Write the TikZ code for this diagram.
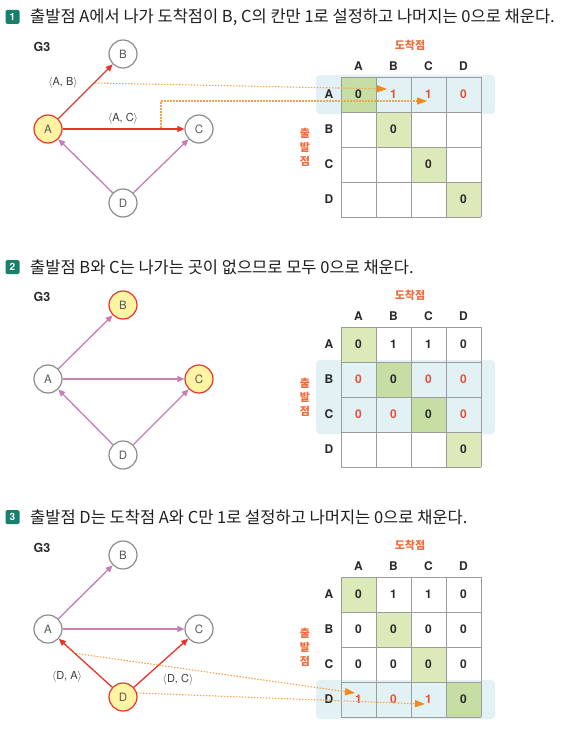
\documentclass[tikz,border=0pt]{standalone}
\usepackage{fontspec}
\setmainfont{Liberation Sans}
\newfontfamily\kr{Noto Sans CJK KR}
\newfontfamily\hv{TeX Gyre Heros}
\usetikzlibrary{arrows.meta}
\definecolor{redE}{HTML}{E8352B}
\definecolor{pinkE}{HTML}{C77DB6}
\definecolor{nodeG}{HTML}{8C8C8C}
\definecolor{yel}{HTML}{FFF4A4}
\definecolor{orgL}{HTML}{F5A24A}
\definecolor{orgA}{HTML}{F08A1C}
\definecolor{orgT}{HTML}{F26B3A}
\definecolor{bandc}{HTML}{E2F1F4}
\definecolor{grn}{HTML}{DCE9B8}
\definecolor{grnD}{HTML}{C6DDA3}
\definecolor{gridc}{HTML}{9C9C9C}
\definecolor{txt}{HTML}{2A2A2A}
\definecolor{redT}{HTML}{E4523F}
\definecolor{badgec}{HTML}{17806A}

\newcommand\matlabels[2]{%
  \node[ktl] (#1dst) at (410,#2-32) {도착점};
  \node[ktl, align=center, font=\kr\bfseries\fontsize{11}{14}\selectfont] (#1src) at (305,#2+70) {출\\발\\점};
  \foreach \l [count=\i from 0] in {A,B,C,D}{
    \node[hdr] (#1c\l) at ({358.5+35*\i},#2-11) {\l};
    \node[hdr] (#1r\l) at (329,{#2+17.5+35*\i}) {\l};
  }
}
\newcommand\matgrid[1]{%
  \foreach \k in {0,...,4}{
    \draw[gridl] ({341+35*\k},#1) -- ({341+35*\k},#1+140);
    \draw[gridl] (341,{#1+35*\k}) -- (481,{#1+35*\k});
  }
}
\newcommand\cel[6]{%
  \node[cellb, fill=#5] (#1-#3-#4) at ({358.5+35*#4},{#2+17.5+35*#3}) {#6};
}
\newcommand\rz{\textcolor{redT}{0}}
\newcommand\ro{\textcolor{redT}{1}}

\begin{document}
\begin{tikzpicture}[x=1pt,y=-1pt,
  vtx/.style={circle, draw=nodeG, line width=1.2pt, fill=white, minimum size=28pt, inner sep=0pt, font=\hv\fontsize{11.5}{13}\selectfont, text=black!65},
  vsel/.style={vtx, draw=redE, fill=yel},
  edg/.style={pinkE, line width=1.3pt, -{Triangle[length=7pt,width=6pt]}},
  esel/.style={redE, line width=1.3pt, -{Triangle[length=7pt,width=6pt]}},
  elab/.style={font=\hv\fontsize{11}{13}\selectfont, text=black!75},
  dotl/.style={orgL, line width=1.1pt, dash pattern=on 1.5pt off 1.5pt, -{Triangle[length=10pt,width=7pt,color=orgA]}},
  gl/.style={font=\hv\bfseries\fontsize{12.5}{14}\selectfont, text=txt},
  hdr/.style={font=\hv\bfseries\fontsize{12}{14}\selectfont, text=txt, inner sep=0pt},
  ktl/.style={font=\kr\bfseries\fontsize{11}{13}\selectfont, text=orgT, inner sep=0pt},
  cellb/.style={rectangle, minimum size=35pt, inner sep=0pt, draw=none, font=\hv\bfseries\fontsize{12}{14}\selectfont, text=txt},
  gridl/.style={gridc, line width=0.9pt},
  badge/.style={rectangle, rounded corners=1.5pt, fill=badgec, minimum size=14pt, inner sep=0pt, text=white, font=\hv\bfseries\fontsize{10}{12}\selectfont},
  ttl/.style={anchor=west, inner sep=0pt, font=\kr\fontsize{16.5}{19}\selectfont, text=black!88}
]
\useasboundingbox (0,0) rectangle (576,733);
\fill[white] (0,0) rectangle (576,733);

%================ Panel 1 ================
\node[badge] (b1) at (12.5,17) {1};
\node[ttl] (t1) at (30,17) {출발점 A에서 나가 도착점이 B, C의 칸만 1로 설정하고 나머지는 0으로 채운다.};
\node[gl] (g1) at (42,47) {G3};
\node[vsel] (A1) at (48,129) {A};
\node[vtx] (B1) at (123,54) {B};
\node[vtx] (C1) at (199,129) {C};
\node[vtx] (D1) at (123,203) {D};
\draw[esel] (A1) -- (B1);
\draw[esel] (A1) -- (C1);
\draw[edg] (D1) -- (A1);
\draw[edg] (D1) -- (C1);
\node[elab] (l1ab) at (63,83) {\ensuremath{\langle}A, B\ensuremath{\rangle}};
\node[elab] (l1ac) at (123,119) {\ensuremath{\langle}A, C\ensuremath{\rangle}};

\fill[bandc, rounded corners=4pt] (316,75) rectangle (495,114);
\fill[white] (341,112) rectangle (481,217);
\matlabels{m1}{77}
\cel{m1}{77}{0}{0}{grnD}{0}
\cel{m1}{77}{0}{1}{none}{\ro}
\cel{m1}{77}{0}{2}{none}{\ro}
\cel{m1}{77}{0}{3}{none}{\rz}
\cel{m1}{77}{1}{1}{grn}{0}
\cel{m1}{77}{2}{2}{grn}{0}
\cel{m1}{77}{3}{3}{grn}{0}
\matgrid{77}

\coordinate (p1s) at (95,83);
\coordinate (p1e) at (387,89);
\draw[dotl] (p1s) -- (p1e);
\coordinate (p2s) at (161,128);
\coordinate (p2m) at (161,101);
\coordinate (p2e) at (427,101);
\draw[dotl] (p2s) -- (p2m) -- (p2e);

%================ Panel 2 ================
\node[badge] (b2) at (12.5,267) {2};
\node[ttl] (t2) at (30,267) {출발점 B와 C는 나가는 곳이 없으므로 모두 0으로 채운다.};
\node[gl] (g2) at (42,297) {G3};
\node[vtx] (A2) at (48,379) {A};
\node[vsel] (B2) at (123,305) {B};
\node[vsel] (C2) at (199,379) {C};
\node[vtx] (D2) at (123,455) {D};
\draw[edg] (A2) -- (B2);
\draw[edg] (A2) -- (C2);
\draw[edg] (D2) -- (A2);
\draw[edg] (D2) -- (C2);

\fill[white] (341,327) rectangle (481,362);
\fill[bandc, rounded corners=4pt] (316,360) rectangle (495,434);
\fill[white] (341,432) rectangle (481,467);
\matlabels{m2}{327}
\cel{m2}{327}{0}{0}{grn}{0}
\cel{m2}{327}{0}{1}{none}{1}
\cel{m2}{327}{0}{2}{none}{1}
\cel{m2}{327}{0}{3}{none}{0}
\cel{m2}{327}{1}{0}{none}{\rz}
\cel{m2}{327}{1}{1}{grnD}{0}
\cel{m2}{327}{1}{2}{none}{\rz}
\cel{m2}{327}{1}{3}{none}{\rz}
\cel{m2}{327}{2}{0}{none}{\rz}
\cel{m2}{327}{2}{1}{none}{\rz}
\cel{m2}{327}{2}{2}{grnD}{0}
\cel{m2}{327}{2}{3}{none}{\rz}
\cel{m2}{327}{3}{3}{grn}{0}
\matgrid{327}

%================ Panel 3 ================
\node[badge] (b3) at (12.5,517) {3};
\node[ttl] (t3) at (30,517) {출발점 D는 도착점 A와 C만 1로 설정하고 나머지는 0으로 채운다.};
\node[gl] (g3) at (42,548) {G3};
\node[vtx] (A3) at (48,629) {A};
\node[vtx] (B3) at (123,555) {B};
\node[vtx] (C3) at (199,629) {C};
\node[vsel] (D3) at (123,697) {D};
\draw[edg] (A3) -- (B3);
\draw[edg] (A3) -- (C3);
\draw[esel] (D3) -- (A3);
\draw[esel] (D3) -- (C3);
\node[elab] (l3da) at (67,677) {\ensuremath{\langle}D, A\ensuremath{\rangle}};
\node[elab] (l3dc) at (178,680) {\ensuremath{\langle}D, C\ensuremath{\rangle}};

\fill[white] (341,577) rectangle (481,682);
\fill[bandc, rounded corners=4pt] (316,680) rectangle (495,719);
\matlabels{m3}{577}
\foreach \r in {0,1,2}{
  \foreach \c in {0,1,2,3}{
    \pgfmathtruncatemacro\v{(\r==0 && (\c==1 || \c==2)) ? 1 : 0}
    \ifnum\r=\c
      \cel{m3}{577}{\r}{\c}{grn}{\v}
    \else
      \cel{m3}{577}{\r}{\c}{none}{\v}
    \fi
  }
}
\cel{m3}{577}{3}{0}{none}{\ro}
\cel{m3}{577}{3}{1}{none}{\rz}
\cel{m3}{577}{3}{2}{none}{\ro}
\cel{m3}{577}{3}{3}{grnD}{0}
\matgrid{577}

\coordinate (p3s) at (73,653);
\coordinate (p3e) at (355,693);
\draw[dotl] (p3s) -- (p3e);
\coordinate (p4s) at (137,693);
\coordinate (p4e) at (425,704);
\draw[dotl] (p4s) -- (p4e);
\end{tikzpicture}
\end{document}
